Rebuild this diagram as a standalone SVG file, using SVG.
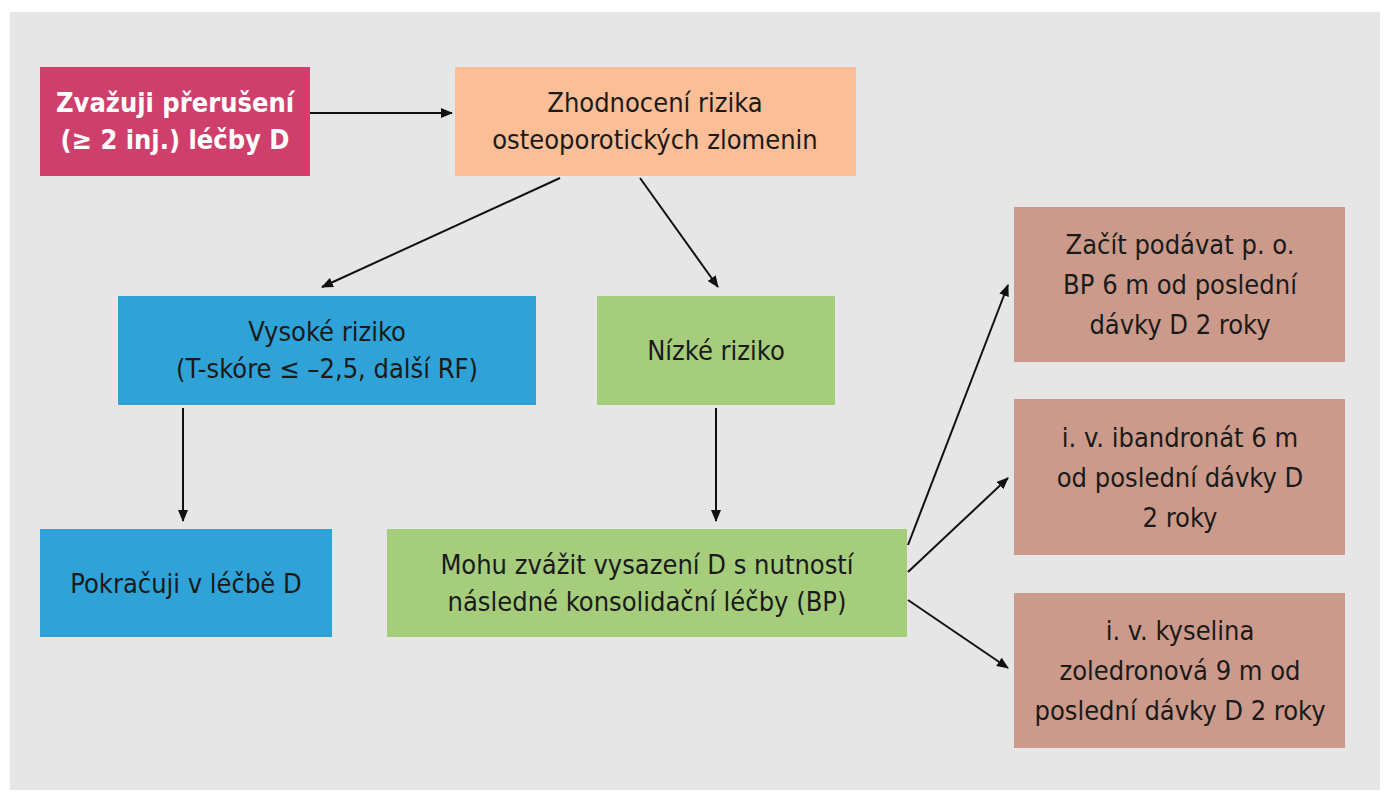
<svg xmlns="http://www.w3.org/2000/svg" width="1392" height="800" viewBox="0 0 1392 800">
<defs>
<marker id="ah" viewBox="0 0 12 10" refX="11" refY="5" markerWidth="12" markerHeight="10" markerUnits="userSpaceOnUse" orient="auto"><path d="M0,0 L12,5 L0,10 Z" fill="#111"/></marker>
</defs>
<style>
text{font-family:"Liberation Sans Narrow","DejaVu Sans Condensed","Liberation Sans",sans-serif;font-size:27px;fill:#1a1a1a;text-anchor:middle}
.w{fill:#fff;font-weight:bold}
.c line{stroke:#111;stroke-width:2;marker-end:url(#ah)}
</style>
<rect width="1392" height="800" fill="#fff"/>
<rect x="10" y="12" width="1370" height="778" fill="#e6e6e6"/>
<g id="n1"><rect x="40" y="67" width="270" height="109" fill="#cf3f6b"/><text class="w" x="175" y="112">Zvažuji přerušení</text><text class="w" x="175" y="149">(≥ 2 inj.) léčby D</text></g>
<g id="n2"><rect x="455" y="67" width="401" height="109" fill="#fbbe96"/><text x="655" y="112">Zhodnocení rizika</text><text x="655" y="149">osteoporotických zlomenin</text></g>
<g id="n3"><rect x="118" y="296" width="418" height="109" fill="#2fa3d8"/><text x="327" y="341">Vysoké riziko</text><text x="327" y="378">(T-skóre ≤ –2,5, další RF)</text></g>
<g id="n4"><rect x="597" y="296" width="238" height="109" fill="#a6cd7c"/><text x="716" y="360">Nízké riziko</text></g>
<g id="n5"><rect x="40" y="529" width="292" height="108" fill="#2fa3d8"/><text x="186" y="593">Pokračuji v léčbě D</text></g>
<g id="n6"><rect x="387" y="529" width="520" height="108" fill="#a6cd7c"/><text x="647" y="574">Mohu zvážit vysazení D s nutností</text><text x="647" y="611">následné konsolidační léčby (BP)</text></g>
<g id="n7"><rect x="1014" y="207" width="331" height="155" fill="#cc9a8a"/><text x="1180" y="254">Začít podávat p. o.</text><text x="1180" y="294">BP 6 m od poslední</text><text x="1180" y="334">dávky D 2 roky</text></g>
<g id="n8"><rect x="1014" y="399" width="331" height="156" fill="#cc9a8a"/><text x="1180" y="447">i. v. ibandronát 6 m</text><text x="1180" y="487">od poslední dávky D</text><text x="1180" y="527">2 roky</text></g>
<g id="n9"><rect x="1014" y="593" width="331" height="155" fill="#cc9a8a"/><text x="1180" y="640">i. v. kyselina</text><text x="1180" y="680">zoledronová 9 m od</text><text x="1180" y="720">poslední dávky D 2 roky</text></g>
<g class="c" id="connectors">
<line x1="310" y1="113" x2="452" y2="113"/>
<line x1="560" y1="178" x2="322" y2="287"/>
<line x1="640" y1="178" x2="718" y2="287"/>
<line x1="183" y1="408" x2="183" y2="521"/>
<line x1="716" y1="408" x2="716" y2="521"/>
<line x1="908" y1="545" x2="1008" y2="285"/>
<line x1="908" y1="572" x2="1008" y2="478"/>
<line x1="908" y1="600" x2="1008" y2="668"/>
</g>
</svg>
